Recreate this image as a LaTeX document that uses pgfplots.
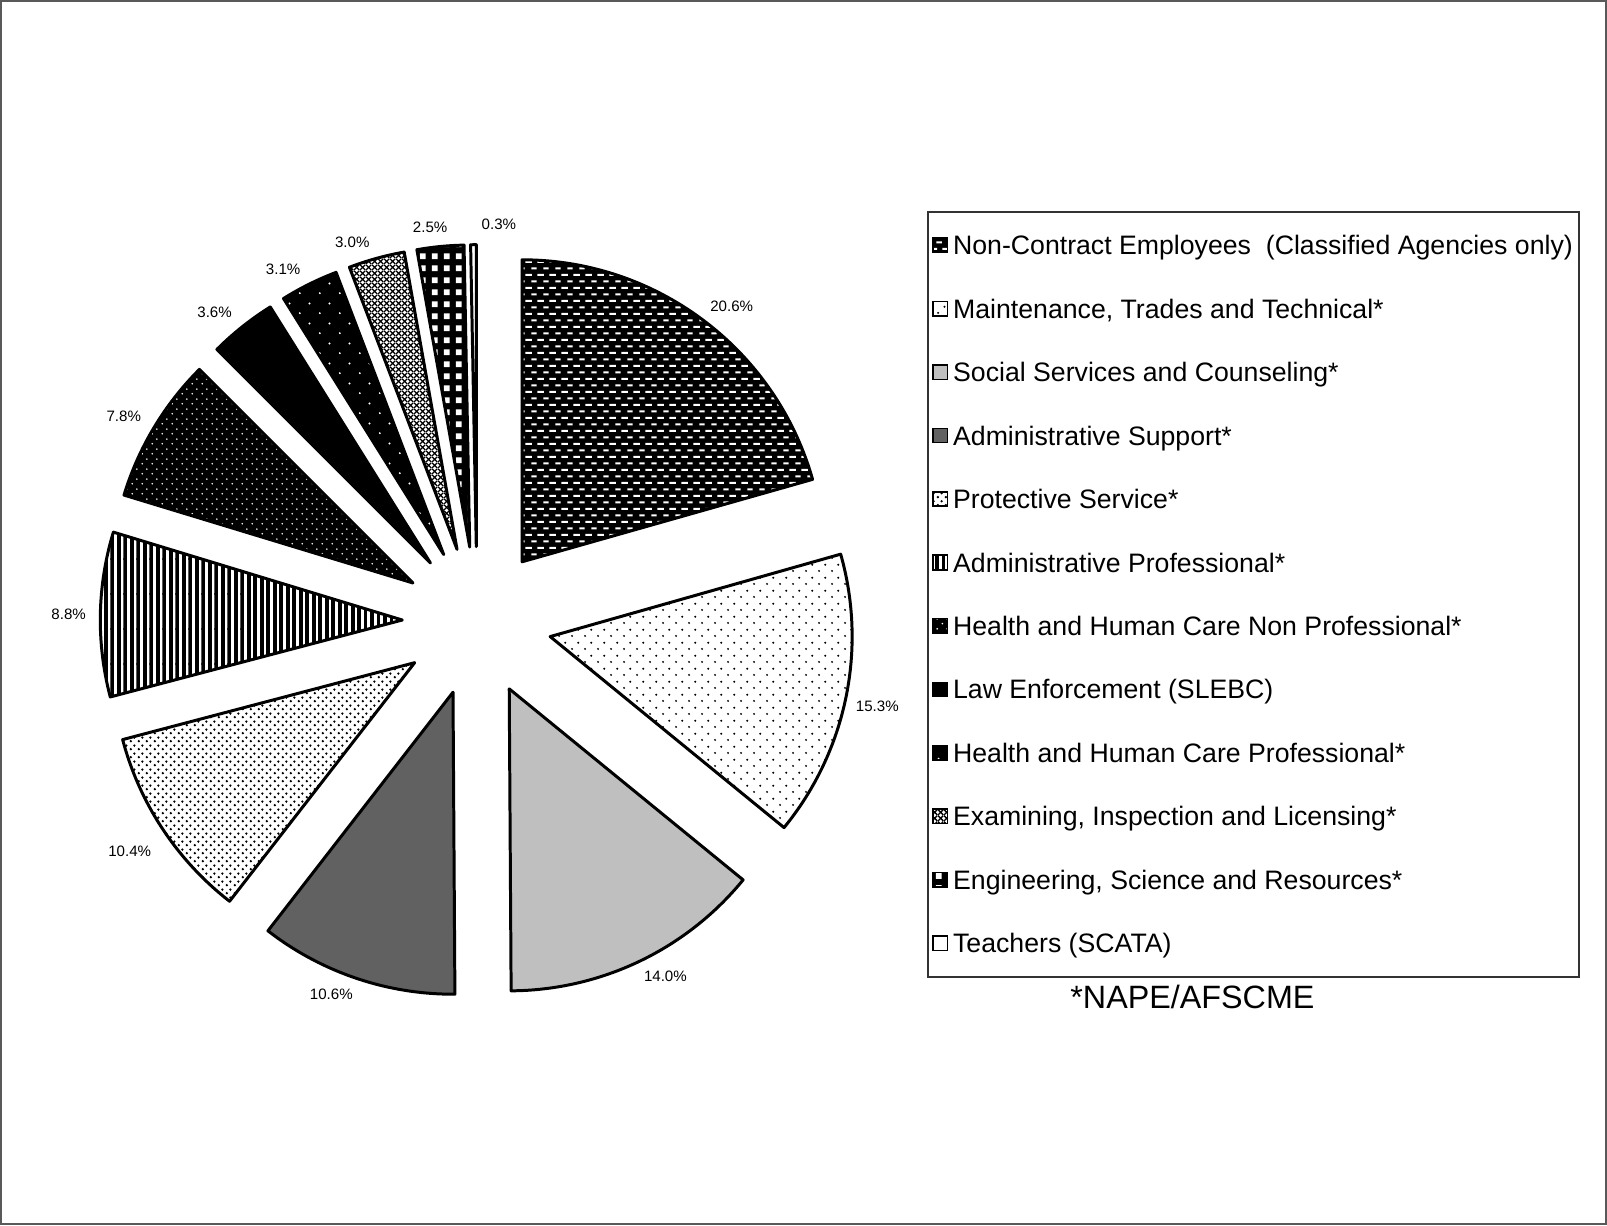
\documentclass[border=0pt]{standalone}
\usepackage{fontspec}
\setmainfont{Liberation Sans}
\usepackage{pgfplots}
\pgfplotsset{compat=1.18}
\usepackage{pgfplotstable}
\usetikzlibrary{patterns}

% hatch fills of the scanned chart
\pgfdeclarepatternformonly{hdash}{\pgfpointorigin}{\pgfpoint{3.4pt}{3.7pt}}{\pgfpoint{3.4pt}{3.7pt}}{%
  \pgfpathrectangle{\pgfpoint{0.1pt}{0.6pt}}{\pgfpoint{1.9pt}{0.55pt}}%
  \pgfpathrectangle{\pgfpoint{1.8pt}{2.45pt}}{\pgfpoint{1.55pt}{0.55pt}}%
  \pgfusepath{fill}}
\pgfdeclarepatternformonly{sparsedots}{\pgfpointorigin}{\pgfpoint{3.6pt}{3.6pt}}{\pgfpoint{3.6pt}{3.6pt}}{%
  \pgfpathcircle{\pgfpoint{0.9pt}{0.9pt}}{0.32pt}%
  \pgfpathcircle{\pgfpoint{2.7pt}{2.7pt}}{0.32pt}%
  \pgfusepath{fill}}
\pgfdeclarepatternformonly{densedots}{\pgfpointorigin}{\pgfpoint{2.3pt}{2.3pt}}{\pgfpoint{2.3pt}{2.3pt}}{%
  \pgfpathcircle{\pgfpoint{0.575pt}{0.575pt}}{0.4pt}%
  \pgfpathcircle{\pgfpoint{1.725pt}{1.725pt}}{0.4pt}%
  \pgfusepath{fill}}
\pgfdeclarepatternformonly{vlines}{\pgfpoint{0pt}{-0.3pt}}{\pgfpoint{1.85pt}{10.3pt}}{\pgfpoint{1.85pt}{10pt}}{%
  \pgfpathrectangle{\pgfpoint{0pt}{-0.3pt}}{\pgfpoint{1.1pt}{10.6pt}}%
  \pgfusepath{fill}}
\pgfdeclarepatternformonly{wdots}{\pgfpointorigin}{\pgfpoint{2.85pt}{2.85pt}}{\pgfpoint{2.85pt}{2.85pt}}{%
  \pgfpathcircle{\pgfpoint{0.71pt}{0.71pt}}{0.28pt}%
  \pgfpathcircle{\pgfpoint{2.14pt}{2.14pt}}{0.28pt}%
  \pgfusepath{fill}}
\pgfdeclarepatternformonly{wsparse}{\pgfpointorigin}{\pgfpoint{5.6pt}{5.6pt}}{\pgfpoint{5.6pt}{5.6pt}}{%
  \pgfpathcircle{\pgfpoint{1.4pt}{1.4pt}}{0.3pt}%
  \pgfpathcircle{\pgfpoint{4.2pt}{4.2pt}}{0.3pt}%
  \pgfusepath{fill}}
\pgfdeclarepatternformonly{xhatch}{\pgfpointorigin}{\pgfpoint{1.6pt}{1.6pt}}{\pgfpoint{1.6pt}{1.6pt}}{%
  \pgfsetlinewidth{0.4pt}%
  \pgfpathmoveto{\pgfpointorigin}\pgfpathlineto{\pgfpoint{1.6pt}{1.6pt}}%
  \pgfpathmoveto{\pgfpoint{0pt}{1.6pt}}\pgfpathlineto{\pgfpoint{1.6pt}{0pt}}%
  \pgfusepath{stroke}}
\pgfdeclarepatternformonly{wsquares}{\pgfpointorigin}{\pgfpoint{3.5pt}{3.5pt}}{\pgfpoint{3.5pt}{3.5pt}}{%
  \pgfpathrectangle{\pgfpoint{0.9pt}{0.9pt}}{\pgfpoint{1.7pt}{1.7pt}}%
  \pgfusepath{fill}}

\tikzset{
  slice0/.style={preaction={fill=black}, pattern=hdash, pattern color=white},
  slice1/.style={preaction={fill=white}, pattern=sparsedots, pattern color=black},
  slice2/.style={fill=black!25},
  slice3/.style={fill=black!62},
  slice4/.style={preaction={fill=white}, pattern=densedots, pattern color=black},
  slice5/.style={preaction={fill=white}, pattern=vlines, pattern color=black},
  slice6/.style={preaction={fill=black}, pattern=wdots, pattern color=white},
  slice7/.style={fill=black},
  slice8/.style={preaction={fill=black}, pattern=wsparse, pattern color=white},
  slice9/.style={preaction={fill=white}, pattern=xhatch, pattern color=black},
  slice10/.style={preaction={fill=black}, pattern=wsquares, pattern color=white},
  slice11/.style={fill=white},
  pct/.style={font=\fontsize{4.3}{5}\selectfont, inner sep=0pt},
}

% share in percent, label nudge (dx, dy)
\pgfplotstableread{
val  dx  dy
20.6 0   0
15.3 0   0
14.0 0   0
10.6 0   0
10.4 -3  -10
8.8  0   -6
7.8  0   0
3.6  0   0
3.1  0   0
3.0  0   0
2.5  12  3
0.3  46  4
}\piedata

\def\R{3.024cm}

\begin{document}
\begin{tikzpicture}
\begin{axis}[
  width=16.07cm, height=12.25cm, scale only axis,
  xmin=0, xmax=1568, ymin=0, ymax=1195,
  xtick=\empty, ytick=\empty,
  axis line style={black!65, line width=0.6pt},
  clip=false,
  legend image code/.code={\draw[#1, line width=0.4pt] (0cm,-0.072cm) rectangle (0.1435cm,0.072cm);},
  legend cell align=left,
  legend style={at={(0.5772,0.8285)}, anchor=north west, draw=black!80, line width=0.5pt,
    inner xsep=1.2pt, inner ysep=0.5pt, font=\fontsize{7.6}{9}\selectfont,
    nodes={inner xsep=0.6pt, inner ysep=0pt, text height=11.75pt, text depth=6.33pt},
    row sep=0pt, column sep=0.8pt},
]
\pgfplotstablegetrowsof{\piedata}
\pgfmathtruncatemacro\N{\pgfplotsretval-1}
\def\cum{0}
\pgfplotsforeachungrouped \i in {0,...,\N}{%
  \pgfplotstablegetelem{\i}{val}\of\piedata \let\v\pgfplotsretval
  \pgfplotstablegetelem{\i}{dx}\of\piedata \let\ldx\pgfplotsretval
  \pgfplotstablegetelem{\i}{dy}\of\piedata \let\ldy\pgfplotsretval
  \pgfmathsetmacro\aA{90-3.6*\cum}
  \pgfmathsetmacro\aB{90-3.6*(\cum+\v)}
  \pgfmathsetmacro\aM{(\aA+\aB)/2}
  \pgfmathsetmacro\px{465+73*cos(\aM)}
  \pgfmathsetmacro\py{589+73*sin(\aM)}
  \pgfmathsetmacro\lx{\px+305*cos(\aM)+21*sign(cos(\aM))+\ldx}
  \pgfmathsetmacro\ly{\py+305*sin(\aM)+6*sign(sin(\aM))+\ldy}
  \edef\temp{%
    \noexpand\draw[slice\i, draw=black, line width=0.85pt, line join=round]
      (axis cs:\px,\py) -- ++(\aA:\R) arc[start angle=\aA, end angle=\aB, radius=\R] -- cycle;
    \noexpand\node[pct] at (axis cs:\lx,\ly) {\v\noexpand\%};
  }%
  \temp
  \pgfmathsetmacro\cum{\cum+\v}
}

\addlegendimage{slice0}\addlegendentry{Non-Contract Employees\ \ (Classified Agencies only)}
\addlegendimage{slice1}\addlegendentry{Maintenance, Trades and Technical*}
\addlegendimage{slice2}\addlegendentry{Social Services and Counseling*}
\addlegendimage{slice3}\addlegendentry{Administrative Support*}
\addlegendimage{slice4}\addlegendentry{Protective Service*}
\addlegendimage{slice5}\addlegendentry{Administrative Professional*}
\addlegendimage{slice6}\addlegendentry{Health and Human Care Non Professional*}
\addlegendimage{slice7}\addlegendentry{Law Enforcement (SLEBC)}
\addlegendimage{slice8}\addlegendentry{Health and Human Care Professional*}
\addlegendimage{slice9}\addlegendentry{Examining, Inspection and Licensing*}
\addlegendimage{slice10}\addlegendentry{Engineering, Science and Resources*}
\addlegendimage{slice11}\addlegendentry{Teachers (SCATA)}

\node[font=\fontsize{9.2}{11}\selectfont] at (axis cs:1164,222) {*NAPE/AFSCME};
\end{axis}
\end{tikzpicture}
\end{document}
